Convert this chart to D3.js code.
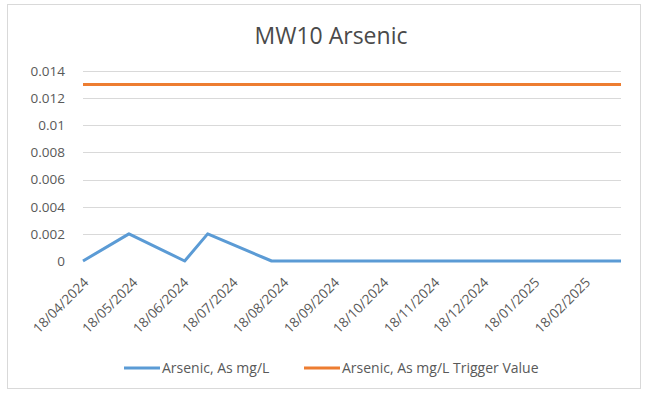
<!DOCTYPE html>
<meta charset="utf-8">
<script src="https://cdn.jsdelivr.net/npm/d3@7"></script>
<style>
body { margin: 0; background: #fff; }
text { font-family: "Open Sans", "Noto Sans", sans-serif; fill: #595959; }
.grid line { stroke: #d9d9d9; stroke-width: 1px; }
</style>
<body>
<script>

// sample dates and arsenic results (mg/L)
var sampleDates = ["2024-04-18", "2024-05-16", "2024-06-19", "2024-07-03", "2024-08-11",
                   "2024-09-10", "2024-10-15", "2024-11-12", "2024-12-10", "2025-01-14",
                   "2025-02-11", "2025-03-12"];
var arsenic = [0, 0.002, 0, 0.002, 0, 0, 0, 0, 0, 0, 0, 0];
var trigger = [0.013, 0.013, 0.013, 0.013, 0.013, 0.013, 0.013, 0.013, 0.013, 0.013, 0.013, 0.013];

var yTicks = [0, 0.002, 0.004, 0.006, 0.008, 0.01, 0.012, 0.014];
var xTickDates = ["2024-04-18", "2024-05-18", "2024-06-18", "2024-07-18", "2024-08-18", "2024-09-18",
                  "2024-10-18", "2024-11-18", "2024-12-18", "2025-01-18", "2025-02-18"];

var seriesNames = ["Arsenic, As mg/L", "Arsenic, As mg/L Trigger Value"];
var colours = ["#5b9bd5", "#ed7d31"];

var width = 648, height = 394;
var parse = d3.utcParse("%Y-%m-%d");
var fmt = d3.utcFormat("%d/%m/%Y");

var dates = sampleDates.map(parse);

var svg = d3.select("body").append("svg")
    .attr("width", width)
    .attr("height", height);

// chart border
svg.append("rect")
    .attr("x", 7.5).attr("y", 4.5)
    .attr("width", 633).attr("height", 384)
    .attr("fill", "#fff")
    .attr("stroke", "#d9d9d9");

var x = d3.scaleUtc()
    .domain([dates[0], dates[dates.length - 1]])
    .range([83, 621]);

var y = d3.scaleLinear()
    .domain([0, 0.014])
    .range([261, 71]);

svg.append("text")
    .attr("x", 331).attr("y", 44)
    .attr("text-anchor", "middle")
    .style("font-size", "23px")
    .style("fill", "#4a4a4a")
    .text("MW10 Arsenic");

// gridlines
svg.append("g").attr("class", "grid")
  .selectAll("line")
  .data(yTicks.slice(1))
  .enter().append("line")
    .attr("x1", 83).attr("x2", 621)
    .attr("y1", function(d) { return Math.round(y(d)) + 0.5; })
    .attr("y2", function(d) { return Math.round(y(d)) + 0.5; });

// y axis labels
var yAxis = d3.axisLeft(y).tickValues(yTicks).tickSize(0).tickPadding(18)
    .tickFormat(function(d) { return d === 0 ? "0" : String(+d.toFixed(3)); });
var gy = svg.append("g").attr("transform", "translate(83,0)").call(yAxis);
gy.select(".domain").remove();
gy.selectAll("text").style("font-size", "13.5px").attr("fill", "#595959");

// x axis labels
svg.append("g")
  .selectAll("text")
  .data(xTickDates.map(parse))
  .enter().append("text")
    .attr("transform", function(d) { return "translate(" + (x(d) + 3) + ",280) rotate(-45)"; })
    .attr("text-anchor", "end")
    .attr("dy", "0.35em")
    .style("font-size", "13.5px")
    .text(function(d) { return fmt(d); });

var line = d3.line()
    .x(function(d) { return x(d.date); })
    .y(function(d) { return y(d.value); });

var series = [arsenic, trigger].map(function(vals) {
  return vals.map(function(v, i) { return {date: dates[i], value: v}; });
});

svg.selectAll("path.series")
  .data(series)
  .enter().append("path")
    .attr("class", "series")
    .attr("fill", "none")
    .attr("stroke", function(d, i) { return colours[i]; })
    .attr("stroke-width", 3)
    .attr("stroke-linejoin", "round")
    .attr("d", line);

// legend
var legendX = [124, 304];
var legend = svg.selectAll("g.legend")
  .data(seriesNames)
  .enter().append("g")
    .attr("class", "legend")
    .attr("transform", function(d, i) { return "translate(" + legendX[i] + ",368)"; });

legend.append("line")
    .attr("x1", 0).attr("x2", 36)
    .attr("stroke", function(d, i) { return colours[i]; })
    .attr("stroke-width", 3);

legend.append("text")
    .attr("x", 38)
    .attr("dy", "0.35em")
    .style("font-size", "14px")
    .text(function(d) { return d; });

</script>
</body>
